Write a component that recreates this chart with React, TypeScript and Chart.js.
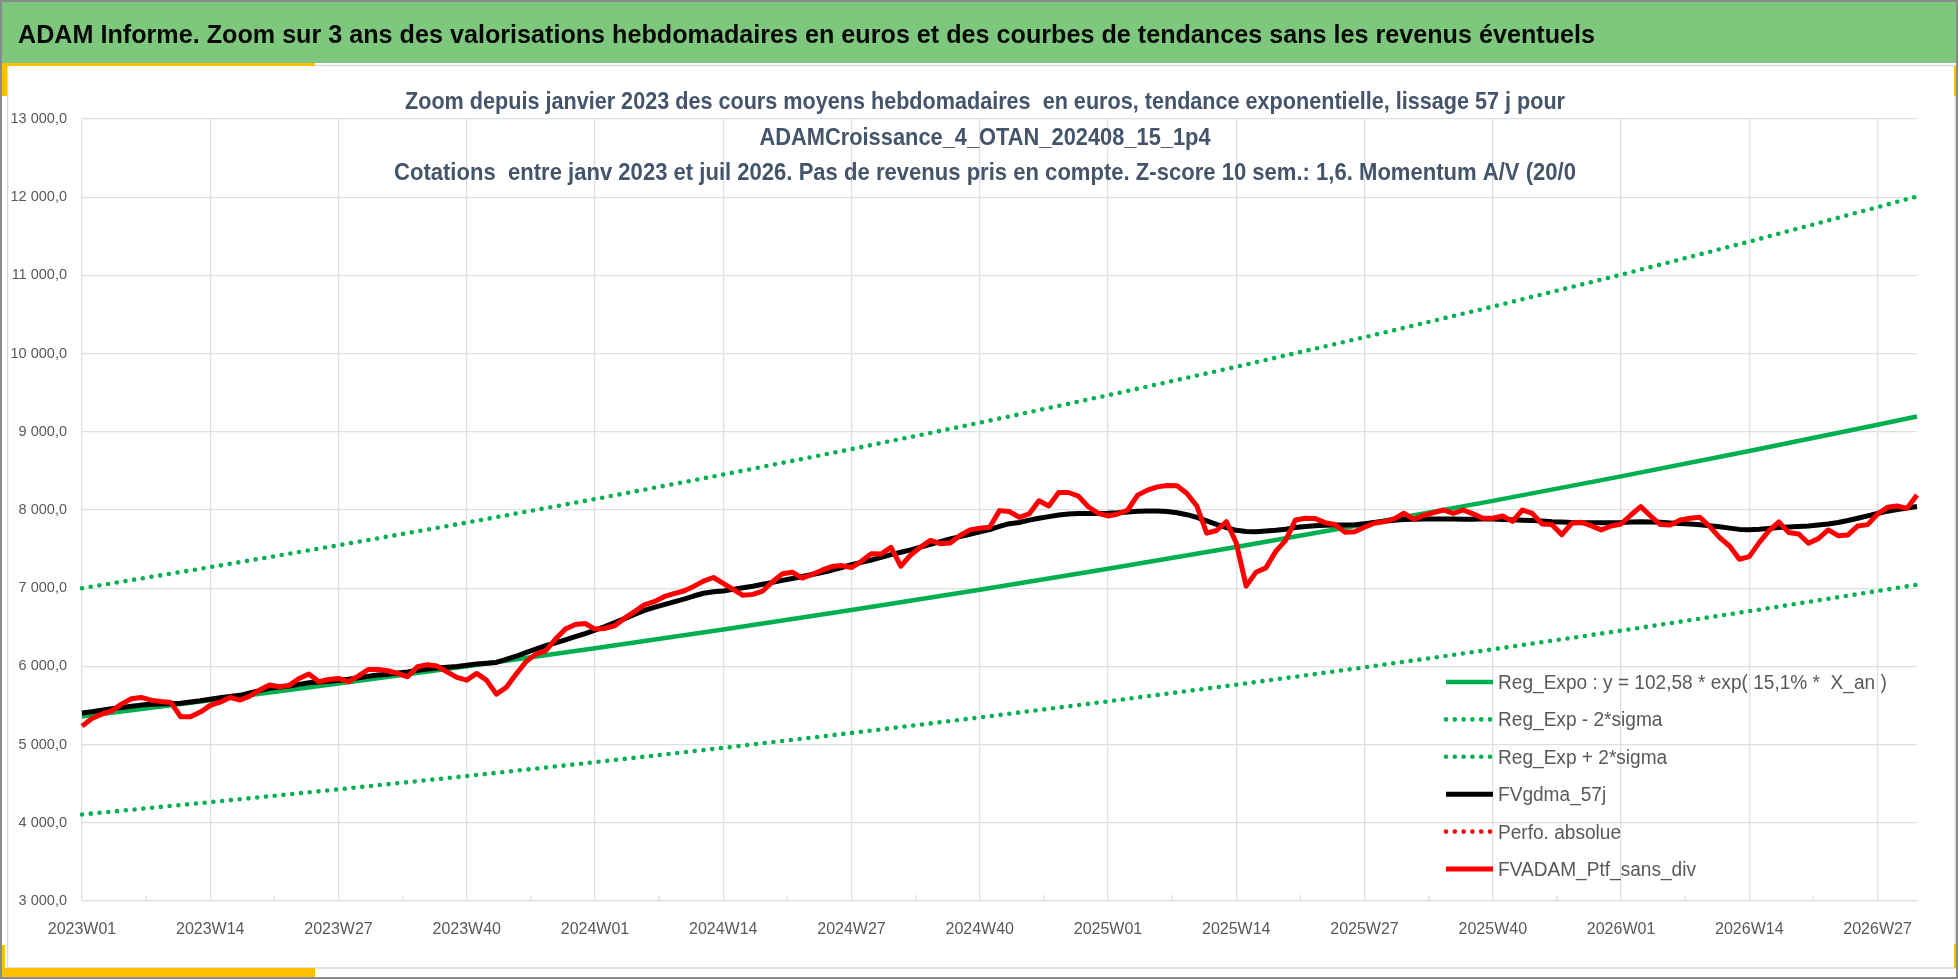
import React, { useEffect, useRef } from "react";
import { Chart, registerables } from "chart.js";

Chart.register(...registerables);

const W = 1958;
const H = 979;

// ISO weeks shown on the category axis (2023W01 .. 2026W31)
const YEAR_WEEKS: Array<[number, number]> = [
    [2023, 52],
    [2024, 52],
    [2025, 52],
    [2026, 31],
];

// positions (week index) of the trend values read at the gridlines + last week
const TREND_INDEX = [0, 13, 26, 39, 52, 65, 78, 91, 104, 117, 130, 143, 156, 169, 182, 186];
const REG_EXPO = [5360, 5566, 5780, 6002, 6233, 6473, 6722, 6980, 7249, 7527, 7817, 8117, 8430, 8754, 9090, 9196];
const REG_LOW = [4106, 4264, 4428, 4598, 4775, 4958, 5149, 5347, 5553, 5766, 5988, 6218, 6457, 6706, 6964, 7045];
const REG_HIGH = [7000, 7269, 7549, 7839, 8140, 8453, 8778, 9116, 9467, 9831, 10209, 10601, 11009, 11432, 11872, 12010];

// FVgdma_57j (smoothed)
const FV_GDMA = [
    5405, 5420, 5440, 5460, 5475, 5490, 5505, 5515, 5520, 5525,
    5530, 5545, 5560, 5580, 5600, 5615, 5630, 5660, 5690, 5720,
    5735, 5750, 5770, 5790, 5800, 5810, 5820, 5835, 5855, 5875,
    5890, 5900, 5915, 5930, 5950, 5965, 5980, 5990, 6000, 6015,
    6030, 6040, 6050, 6090, 6130, 6175, 6220, 6265, 6300, 6340,
    6380, 6420, 6465, 6510, 6560, 6610, 6665, 6715, 6755, 6790,
    6825, 6860, 6900, 6935, 6955, 6965, 6985, 7005, 7025, 7050,
    7075, 7100, 7125, 7150, 7175, 7200, 7230, 7265, 7300, 7330,
    7360, 7395, 7430, 7460, 7490, 7525, 7560, 7595, 7630, 7660,
    7690, 7720, 7750, 7790, 7825, 7840, 7870, 7895, 7915, 7935,
    7950, 7955, 7955, 7955, 7958, 7965, 7975, 7985, 7988, 7988,
    7980, 7965, 7940, 7905, 7860, 7815, 7775, 7740, 7725, 7722,
    7730, 7740, 7755, 7775, 7790, 7800, 7805, 7808, 7808, 7812,
    7825, 7840, 7855, 7868, 7878, 7882, 7884, 7885, 7885, 7884,
    7882, 7882, 7888, 7885, 7880, 7875, 7870, 7865, 7858, 7850,
    7845, 7840, 7838, 7838, 7838, 7838, 7840, 7845, 7850, 7848,
    7842, 7835, 7828, 7820, 7810, 7798, 7785, 7768, 7752, 7748,
    7755, 7765, 7775, 7782, 7788, 7795, 7808, 7822, 7840, 7865,
    7895, 7925, 7955, 7985, 8005, 8025, 8045,
];

// FVADAM_Ptf_sans_div (weekly)
const FV_ADAM = [
    5236, 5334, 5390, 5432, 5518, 5586, 5603, 5569, 5552, 5539,
    5356, 5356, 5416, 5501, 5543, 5603, 5569, 5620, 5697, 5761,
    5740, 5757, 5846, 5902, 5804, 5833, 5846, 5804, 5876, 5961,
    5961, 5944, 5910, 5867, 5995, 6021, 6004, 5931, 5859, 5825,
    5910, 5825, 5646, 5731, 5902, 6059, 6157, 6200, 6350, 6477,
    6536, 6549, 6477, 6486, 6520, 6617, 6701, 6786, 6828, 6892,
    6930, 6964, 7023, 7091, 7137, 7061, 6985, 6909, 6921, 6964,
    7082, 7184, 7205, 7129, 7175, 7230, 7277, 7289, 7264, 7344,
    7442, 7437, 7522, 7281, 7425, 7526, 7611, 7569, 7577, 7674,
    7746, 7767, 7780, 7992, 7980, 7907, 7949, 8118, 8051, 8224,
    8224, 8178, 8042, 7958, 7924, 7949, 8000, 8190, 8254, 8296,
    8313, 8309, 8212, 8051, 7704, 7738, 7852, 7577, 7027, 7205,
    7260, 7471, 7611, 7873, 7894, 7890, 7839, 7814, 7717, 7721,
    7780, 7831, 7852, 7886, 7958, 7882, 7932, 7966, 8000, 7958,
    8000, 7950, 7894, 7894, 7923, 7855, 8000, 7957, 7821, 7813,
    7685, 7830, 7843, 7796, 7745, 7796, 7821, 7936, 8043, 7923,
    7813, 7809, 7872, 7894, 7906, 7787, 7647, 7540, 7370, 7404,
    7583, 7736, 7847, 7711, 7694, 7574, 7634, 7745, 7672, 7681,
    7796, 7813, 7949, 8034, 8051, 8021, 8191,
];

const Y_MIN = 3000;
const Y_MAX = 13000;
const Y_STEP = 1000;
const LABEL_EVERY = 13;

const HEADER_TITLE =
    "ADAM Informe. Zoom sur 3 ans des valorisations hebdomadaires en euros et des courbes de tendances sans les revenus éventuels";
const CHART_TITLE = [
    "Zoom depuis janvier 2023 des cours moyens hebdomadaires  en euros, tendance exponentielle, lissage 57 j pour",
    "ADAMCroissance_4_OTAN_202408_15_1p4",
    "Cotations  entre janv 2023 et juil 2026. Pas de revenus pris en compte. Z-score 10 sem.: 1,6. Momentum A/V (20/0",
];
const LEGEND_LABELS = [
    "Reg_Expo : y = 102,58 * exp( 15,1% *  X_an )",
    "Reg_Exp - 2*sigma",
    "Reg_Exp + 2*sigma",
    "FVgdma_57j",
    "Perfo. absolue",
    "FVADAM_Ptf_sans_div",
];

const FONT = "'Liberation Sans', Arial, sans-serif";
const GRID = "#DCDFE4";
const TEXT_GRAY = "#595959";
const TITLE_COLOR = "#44546A";
const GREEN = "#00B050";
const RED = "#FF0000";
const YELLOW = "#FFC000";

const weekLabels: string[] = [];
YEAR_WEEKS.forEach(([year, n]) => {
    for (let w = 1; w <= n; w++) weekLabels.push(`${year}W${String(w).padStart(2, "0")}`);
});

const sparse = (values: number[]) => {
    const out: (number | null)[] = weekLabels.map(() => null);
    TREND_INDEX.forEach((idx, k) => (out[idx] = values[k]));
    return out;
};

const formatValue = (v: number) => String(Math.round(v)).replace(/\B(?=(\d{3})+(?!\d))/g, " ") + ",0";

// text squeezed to a given width, like the narrow Excel font
const drawFitted = (ctx: CanvasRenderingContext2D, text: string, x: number, y: number, sx: number, center: boolean) => {
    const w = ctx.measureText(text).width;
    ctx.save();
    ctx.translate(x, y);
    ctx.scale(sx, 1);
    ctx.textAlign = "left";
    ctx.fillText(text, center ? -w / 2 : 0, 0);
    ctx.restore();
};

const framePlugin = {
    id: "frame",
    beforeDraw(chart: Chart) {
        const ctx = chart.ctx;
        ctx.save();
        ctx.fillStyle = "#FFFFFF";
        ctx.fillRect(0, 0, W, H);
        // green banner
        ctx.fillStyle = "#7EC87E";
        ctx.fillRect(0, 0, W, 63);
        // inner chart border
        ctx.strokeStyle = "#D9D9D9";
        ctx.lineWidth = 1.5;
        ctx.strokeRect(7.5, 65.5, W - 10, 902.5);
        // yellow corner accents
        ctx.fillStyle = YELLOW;
        ctx.fillRect(0, 63, 315, 3);
        ctx.fillRect(0, 63, 7, 33);
        ctx.fillRect(W - 4, 66, 3, 30);
        ctx.fillRect(0, 945, 5, 23);
        ctx.fillRect(0, 968, 315, 9);
        ctx.fillRect(W - 4, 944, 3, 24);
        // outer border
        ctx.strokeStyle = "#8A8A8A";
        ctx.lineWidth = 2;
        ctx.strokeRect(1, 1, W - 2, H - 2);
        // banner title
        ctx.fillStyle = "#0A0A0A";
        ctx.font = `bold 25px ${FONT}`;
        ctx.textBaseline = "alphabetic";
        const tw = ctx.measureText(HEADER_TITLE).width;
        drawFitted(ctx, HEADER_TITLE, 18, 43, 1577 / tw, false);
        ctx.restore();
    },
};

const titlePlugin = {
    id: "titleBlock",
    afterDatasetsDraw(chart: Chart) {
        const ctx = chart.ctx;
        ctx.save();
        ctx.fillStyle = TITLE_COLOR;
        ctx.font = `bold 24px ${FONT}`;
        ctx.textBaseline = "alphabetic";
        const s1 = 1160 / ctx.measureText(CHART_TITLE[0]).width;
        const s3 = 1182 / ctx.measureText(CHART_TITLE[2]).width;
        const scales = [s1, (s1 + s3) / 2, s3];
        const baselines = [109, 145, 180];
        CHART_TITLE.forEach((line, i) => drawFitted(ctx, line, 985, baselines[i], scales[i], true));
        ctx.restore();
    },
};

const minorTickPlugin = {
    id: "minorTicks",
    afterDraw(chart: Chart) {
        const ctx = chart.ctx;
        const xs = chart.scales.x;
        const bottom = chart.chartArea.bottom;
        ctx.save();
        ctx.strokeStyle = GRID;
        ctx.lineWidth = 1.3;
        for (let i = 0; i + LABEL_EVERY / 2 < weekLabels.length - 1; i += LABEL_EVERY) {
            const x = xs.getPixelForValue(i + LABEL_EVERY / 2);
            ctx.beginPath();
            ctx.moveTo(x, bottom - 6);
            ctx.lineTo(x, bottom);
            ctx.stroke();
        }
        ctx.restore();
    },
};

const legendPlugin = {
    id: "customLegend",
    afterDraw(chart: Chart) {
        const ctx = chart.ctx;
        ctx.save();
        ctx.font = `20px ${FONT}`;
        const sx = 198 / ctx.measureText(LEGEND_LABELS[5]).width;
        chart.data.datasets.forEach((ds: any, i: number) => {
            const y = 682 + i * 37.4;
            ctx.beginPath();
            ctx.strokeStyle = ds.borderColor;
            ctx.lineWidth = ds.borderWidth;
            ctx.lineCap = ds.borderDash && ds.borderDash.length ? "round" : "butt";
            ctx.setLineDash(ds.borderDash || []);
            ctx.moveTo(1446, y);
            ctx.lineTo(1493, y);
            ctx.stroke();
            ctx.setLineDash([]);
            ctx.fillStyle = TEXT_GRAY;
            ctx.textBaseline = "alphabetic";
            drawFitted(ctx, LEGEND_LABELS[i], 1498, y + 7, sx, false);
        });
        ctx.restore();
    },
};

const DOTS = [0, 8.8];

export default function App() {
    const canvasRef = useRef<HTMLCanvasElement>(null);

    useEffect(() => {
        document.body.style.margin = "0";
        const ctx = canvasRef.current?.getContext("2d");
        if (!ctx) return;

        const chart = new Chart(ctx, {
            type: "line",
            data: {
                labels: weekLabels,
                datasets: [
                    {
                        label: LEGEND_LABELS[0],
                        data: sparse(REG_EXPO),
                        borderColor: GREEN,
                        borderWidth: 4.5,
                        spanGaps: true,
                        order: 5,
                    },
                    {
                        label: LEGEND_LABELS[1],
                        data: sparse(REG_LOW),
                        borderColor: GREEN,
                        borderWidth: 4.6,
                        borderDash: DOTS,
                        borderCapStyle: "round",
                        spanGaps: true,
                        order: 4,
                    },
                    {
                        label: LEGEND_LABELS[2],
                        data: sparse(REG_HIGH),
                        borderColor: GREEN,
                        borderWidth: 4.6,
                        borderDash: DOTS,
                        borderCapStyle: "round",
                        spanGaps: true,
                        order: 3,
                    },
                    {
                        label: LEGEND_LABELS[3],
                        data: FV_GDMA,
                        borderColor: "#000000",
                        borderWidth: 5,
                        order: 2,
                    },
                    {
                        label: LEGEND_LABELS[4],
                        data: weekLabels.map(() => null),
                        borderColor: RED,
                        borderWidth: 4.6,
                        borderDash: DOTS,
                        borderCapStyle: "round",
                        order: 1,
                    },
                    {
                        label: LEGEND_LABELS[5],
                        data: FV_ADAM,
                        borderColor: RED,
                        borderWidth: 5,
                        order: 0,
                    },
                ],
            },
            options: {
                responsive: false,
                animation: false,
                devicePixelRatio: 1,
                events: [],
                layout: { padding: { left: 0, top: 119, right: 41, bottom: 0 } },
                elements: {
                    point: { radius: 0 },
                    line: { tension: 0, borderJoinStyle: "round" },
                },
                plugins: {
                    legend: { display: false },
                    title: { display: false },
                    tooltip: { enabled: false },
                },
                scales: {
                    x: {
                        type: "category",
                        offset: false,
                        grid: {
                            color: (c: any) => (c.index % LABEL_EVERY === 0 ? GRID : "rgba(0,0,0,0)"),
                            lineWidth: 1.3,
                            drawTicks: false,
                        },
                        border: { color: GRID, width: 1.3 },
                        ticks: {
                            autoSkip: false,
                            maxRotation: 0,
                            minRotation: 0,
                            padding: 19,
                            color: TEXT_GRAY,
                            font: { family: FONT, size: 16 },
                            callback: (_v: any, i: number) => (i % LABEL_EVERY === 0 ? weekLabels[i] : ""),
                        },
                        afterFit: (s: any) => {
                            s.height = 78;
                        },
                    },
                    y: {
                        min: Y_MIN,
                        max: Y_MAX,
                        grid: { color: GRID, lineWidth: 1.3, drawTicks: false },
                        border: { display: false },
                        ticks: {
                            stepSize: Y_STEP,
                            padding: 15,
                            color: TEXT_GRAY,
                            font: { family: FONT, size: 14.5 },
                            callback: (v: any) => formatValue(Number(v)),
                        },
                        afterFit: (s: any) => {
                            s.width = 82;
                        },
                    },
                },
            },
            plugins: [framePlugin, titlePlugin, minorTickPlugin, legendPlugin],
        } as any);

        return () => {
            chart.destroy();
        };
    }, []);

    return (
        <div style={{ position: "fixed", left: 0, top: 0, width: W, height: H, background: "#fff" }}>
            <canvas ref={canvasRef} width={W} height={H} style={{ width: W, height: H, display: "block" }} />
        </div>
    );
}
